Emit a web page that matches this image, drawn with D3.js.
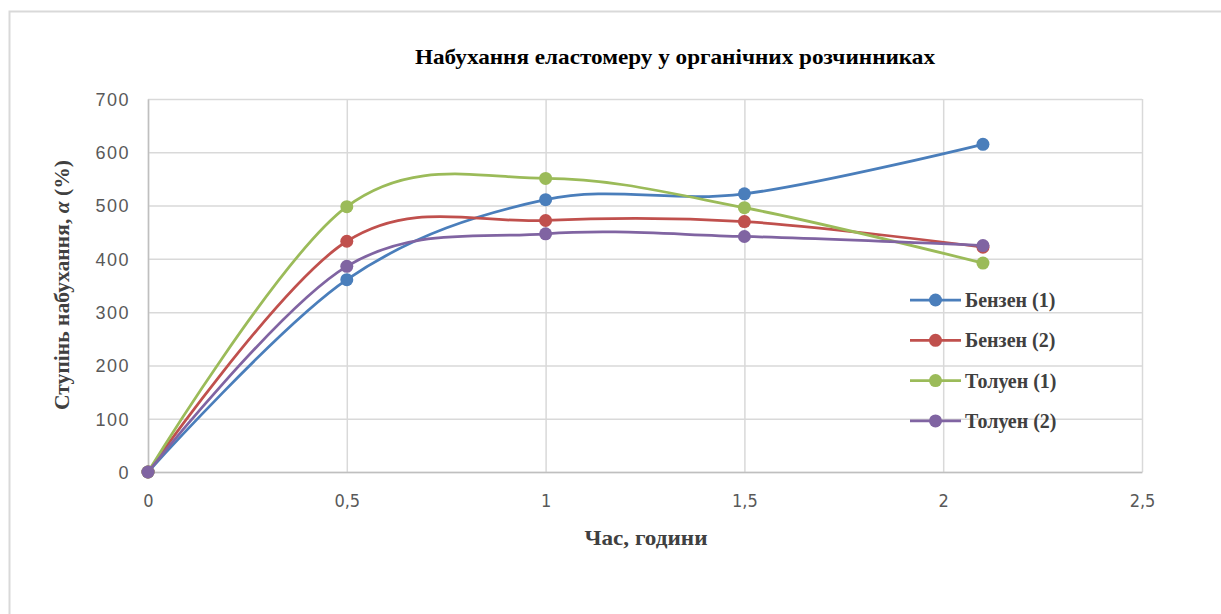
<!DOCTYPE html>
<html>
<head>
<meta charset="utf-8">
<script src="https://cdn.jsdelivr.net/npm/d3@7"></script>
<style>
	body { margin: 0; background: #fff; }
	.tick text { fill: #595959; }
	.x-axis .tick text { font-family: "Liberation Sans Narrow", "DejaVu Sans Condensed", sans-serif; font-size: 18px; }
	.y-axis .tick text { font-family: "Liberation Sans", sans-serif; font-size: 18px; letter-spacing: 1.5px; }
</style>
</head>
<body>
<svg id="chart" width="1221" height="614"></svg>
<script>
// data
var hours = [0, 0.5, 1, 1.5, 2.1];
var benzene1 = [0, 361, 511, 522, 615];
var benzene2 = [0, 433, 472, 470, 422];
var toluene1 = [0, 498, 551, 496, 392];
var toluene2 = [0, 386, 447, 442, 425];
var seriesNames = ["Бензен (1)", "Бензен (2)", "Толуен (1)", "Толуен (2)"];
var colors = ["#4a7ebb", "#c0504d", "#9bbb59", "#8064a2"];
var xTicks = [0, 0.5, 1, 1.5, 2, 2.5];
var yTicks = [0, 100, 200, 300, 400, 500, 600, 700];

function draw() {
	var svg = d3.select("#chart"),
	margin = {top: 99, left: 148, bottom: 142, right: 79},
	width = +svg.attr("width"),
	height = +svg.attr("height");

	var series = [benzene1, benzene2, toluene1, toluene2].map((vals, i) => ({
		name: seriesNames[i],
		color: colors[i],
		points: vals.map((v, j) => ({x: hours[j], y: v}))
	}));

	// chart frame
	svg.append("rect")
	.attr("x", 9.5).attr("y", 11.5)
	.attr("width", 1230).attr("height", 620)
	.attr("fill", "#fff")
	.attr("stroke", "#d9d9d9")
	.attr("stroke-width", 2);

	var x = d3.scaleLinear()
	.domain([0, 2.5])
	.range([margin.left, width - margin.right]);

	var y = d3.scaleLinear()
	.domain([0, 700])
	.range([height - margin.bottom, margin.top]);

	// grid
	svg.append("g")
	.attr("class", "y-grid")
	.attr("transform", `translate(${margin.left},0)`)
	.call(d3.axisLeft(y).tickValues(yTicks).tickSize(-(width - margin.right - margin.left)).tickFormat(""))
	.call(g => g.select(".domain").remove())
	.selectAll("line").attr("stroke", "#d9d9d9").attr("stroke-width", 1.5);

	svg.append("g")
	.attr("class", "x-grid")
	.attr("transform", `translate(0,${height - margin.bottom})`)
	.call(d3.axisBottom(x).tickValues(xTicks).tickSize(-(height - margin.bottom - margin.top)).tickFormat(""))
	.call(g => g.select(".domain").remove())
	.selectAll("line").attr("stroke", "#d9d9d9").attr("stroke-width", 1.5);

	// axes
	var yAxis = svg.append("g")
	.attr("class", "y-axis")
	.attr("transform", `translate(${margin.left},0)`)
	.call(d3.axisLeft(y).tickValues(yTicks).tickSize(0).tickPadding(18));
	yAxis.select(".domain").attr("stroke", "#bfbfbf").attr("stroke-width", 1.5);
	yAxis.selectAll("text").attr("dy", "0.35em");

	var xAxis = svg.append("g")
	.attr("class", "x-axis")
	.attr("transform", `translate(0,${height - margin.bottom})`)
	.call(d3.axisBottom(x).tickValues(xTicks).tickSize(0).tickPadding(22)
		.tickFormat(d => String(d).replace(".", ",")));
	xAxis.select(".domain").attr("stroke", "#bfbfbf").attr("stroke-width", 1.5);

	// lines
	var line = d3.line()
	.x(d => x(d.x))
	.y(d => y(d.y))
	.curve(d3.curveCatmullRom.alpha(0));

	var groups = svg.selectAll(".series")
	.data(series)
	.enter().append("g")
	.attr("class", "series");

	groups.append("path")
	.attr("d", d => line(d.points))
	.attr("fill", "none")
	.attr("stroke", d => d.color)
	.attr("stroke-width", 2.75);

	groups.selectAll("circle")
	.data(d => d.points.map(p => ({p: p, color: d.color})))
	.enter().append("circle")
	.attr("cx", d => x(d.p.x))
	.attr("cy", d => y(d.p.y))
	.attr("r", 6.5)
	.attr("fill", d => d.color);

	// title
	svg.append("text")
	.attr("x", 675)
	.attr("y", 64)
	.attr("text-anchor", "middle")
	.attr("textLength", 520)
	.attr("lengthAdjust", "spacingAndGlyphs")
	.style("font-family", "'Liberation Serif', serif")
	.style("font-weight", "bold")
	.style("font-size", "21px")
	.text("Набухання еластомеру у органічних розчинниках");

	// axis titles
	svg.append("text")
	.attr("x", 646)
	.attr("y", 545)
	.attr("text-anchor", "middle")
	.attr("textLength", 123)
	.attr("lengthAdjust", "spacingAndGlyphs")
	.style("font-family", "'Liberation Serif', serif")
	.style("font-weight", "bold")
	.style("font-size", "21px")
	.style("fill", "#404040")
	.text("Час, години");

	var yTitle = svg.append("text")
	.attr("transform", "translate(69,285) rotate(-90)")
	.attr("text-anchor", "middle")
	.attr("textLength", 250)
	.attr("lengthAdjust", "spacingAndGlyphs")
	.style("font-family", "'Liberation Serif', serif")
	.style("font-weight", "bold")
	.style("font-size", "21px")
	.style("fill", "#404040");
	yTitle.append("tspan").text("Ступінь набухання, ");
	yTitle.append("tspan").style("font-style", "italic").text("α");
	yTitle.append("tspan").text(" (%)");

	// legend
	var legend = svg.selectAll(".legend")
	.data(series)
	.enter().append("g")
	.attr("class", "legend")
	.attr("transform", (d, i) => `translate(910,${300 + i * 40.3})`);

	legend.append("line")
	.attr("x1", 0).attr("x2", 51)
	.attr("stroke", d => d.color)
	.attr("stroke-width", 2.75);

	legend.append("circle")
	.attr("cx", 25.5)
	.attr("r", 6.5)
	.attr("fill", d => d.color);

	legend.append("text")
	.attr("x", 55)
	.attr("dy", "0.35em")
	.style("font-family", "'Liberation Serif', serif")
	.style("font-weight", "bold")
	.style("font-size", "20px")
	.style("fill", "#404040")
	.text(d => d.name);
}

draw();
</script>
</body>
</html>
